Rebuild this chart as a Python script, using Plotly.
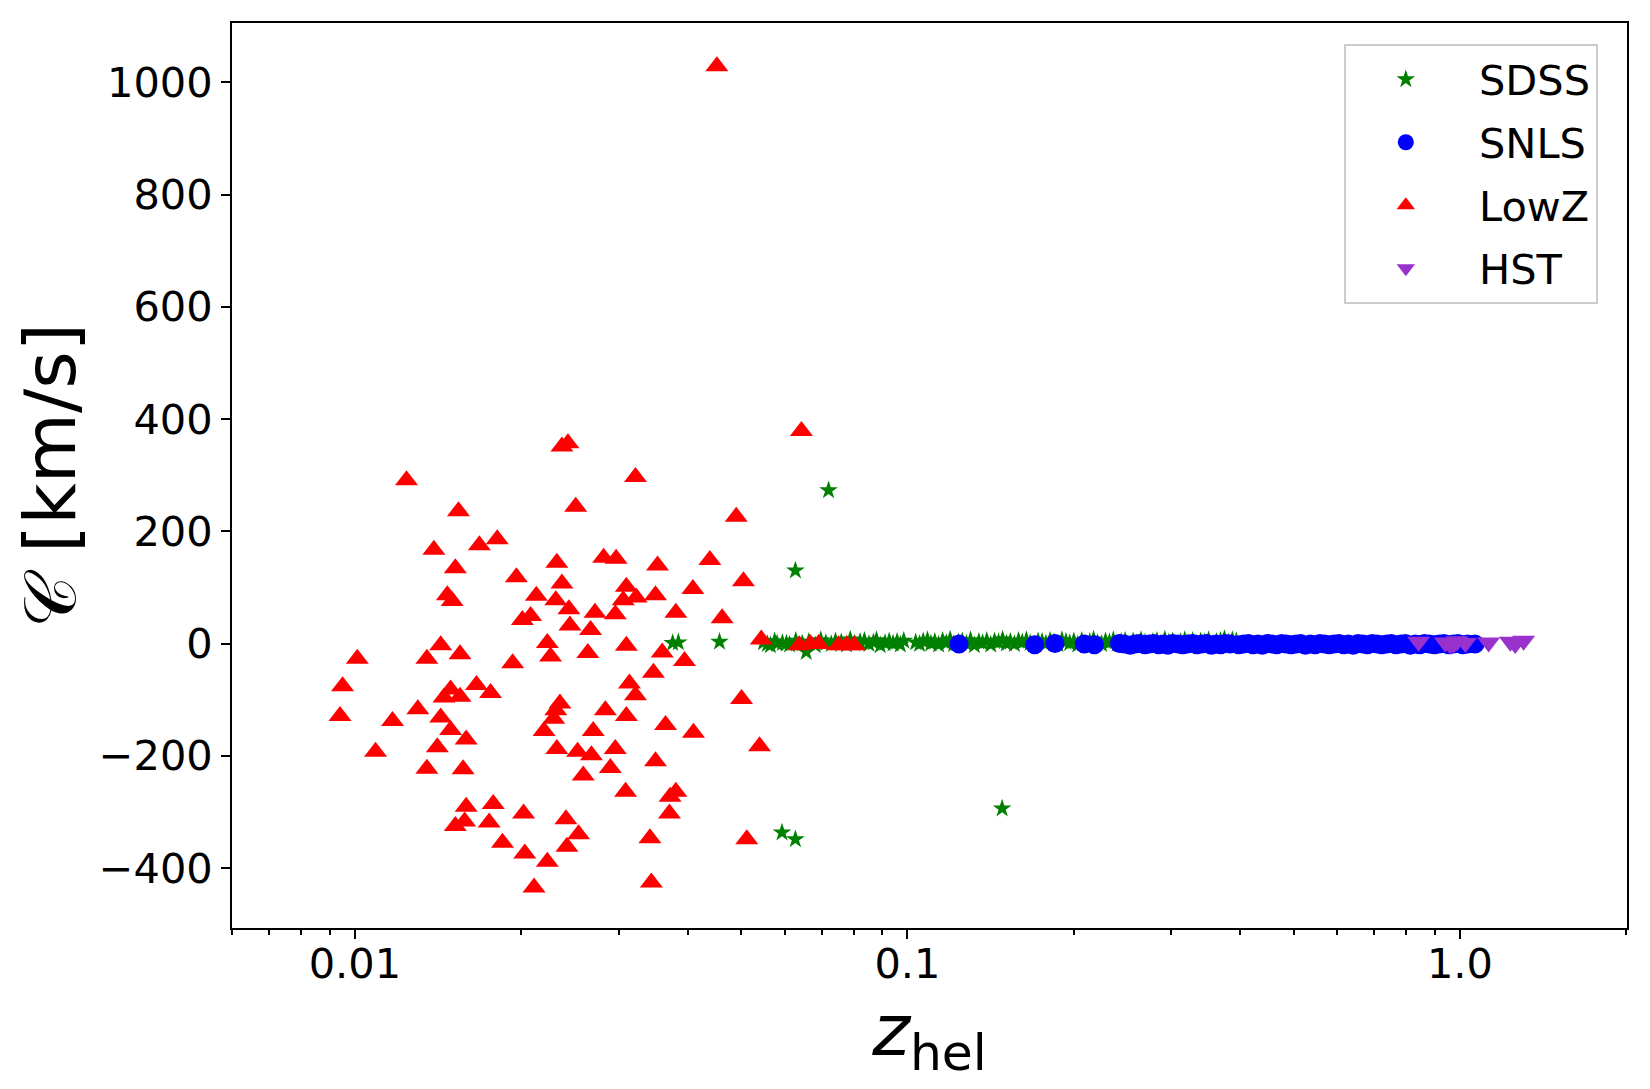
import plotly.graph_objects as go

# SDSS (green stars)
sdss_z = [
    0.0376, 0.0385, 0.0457, 0.0565, 0.0581, 0.0604, 0.0656, 0.0627, 0.0720, 0.1484,
    0.0593, 0.0627, 0.0549, 0.0558, 0.0575, 0.0594, 0.0612, 0.0628, 0.0645, 0.0663,
    0.0681, 0.0697, 0.0712, 0.0728, 0.0741, 0.0759, 0.0776, 0.0788, 0.0803, 0.0821,
    0.0836, 0.0852, 0.0868, 0.0879, 0.0893, 0.0911, 0.0927, 0.0942, 0.0958, 0.0971,
    0.0985, 0.1035, 0.1052, 0.1068, 0.1087, 0.1103, 0.1121, 0.1139, 0.1158, 0.1176,
    0.1195, 0.1213, 0.1236, 0.1257, 0.1279, 0.1301, 0.1322, 0.1347, 0.1368, 0.1392,
    0.1415, 0.1438, 0.1462, 0.1487, 0.1511, 0.1536, 0.1562, 0.1589, 0.1614, 0.1642,
    0.1668, 0.1697, 0.1724, 0.1753, 0.1781, 0.1812, 0.1843, 0.1872, 0.1904, 0.1936,
    0.1967, 0.2001, 0.2034, 0.2068, 0.2103, 0.2138, 0.2172, 0.2209, 0.2246, 0.2283,
    0.2321, 0.2359, 0.2398, 0.2437, 0.2478, 0.2519, 0.2561, 0.2603, 0.2647, 0.2692,
    0.2736, 0.2782, 0.2829, 0.2876, 0.2924, 0.2973, 0.3022, 0.3073, 0.3124, 0.3176,
    0.3229, 0.3283, 0.3338, 0.3394, 0.3451, 0.3508, 0.3567, 0.3626, 0.3687, 0.3748,
    0.3811, 0.3874, 0.3939,
]
sdss_c = [
    1, 2, 3, -3, 0, 0, -15, 130, 273, -294,
    -337, -349, 2, -1, 4, 1, -2, 5, 0, 3,
    -3, 6, 1, -1, 4, 2, -2, 7, 0, 3,
    5, -1, 2, 6, -3, 1, 4, 0, 3, -2,
    5, 2, -1, 4, 6, 0, 3, -2, 5, 1,
    7, -1, 2, 4, 0, 6, -3, 3, 1, 5,
    -2, 4, 2, 7, 0, 3, -1, 5, 2, 6,
    1, -2, 4, 3, 0, 5, 2, -1, 6, 3,
    1, 4, -2, 5, 0, 3, 7, 1, -1, 4,
    2, 6, 0, 3, 5, -2, 4, 1, 6, 2,
    -1, 3, 5, 0, 7, 2, 4, -2, 3, 6,
    1, 5, 0, 4, 2, 6, -1, 3, 5, 8,
    2, 6, 4,
]

# SNLS (blue circles)
snls_z = [
    0.124, 0.170, 0.185, 0.209, 0.218, 0.242, 0.247, 0.253, 0.258, 0.263,
    0.269, 0.274, 0.279, 0.285, 0.291, 0.296, 0.302, 0.309, 0.315, 0.321,
    0.328, 0.334, 0.341, 0.348, 0.355, 0.362, 0.369, 0.376, 0.384, 0.398,
    0.406, 0.414, 0.422, 0.431, 0.439, 0.448, 0.457, 0.466, 0.476, 0.485,
    0.495, 0.505, 0.515, 0.525, 0.536, 0.547, 0.558, 0.569, 0.580, 0.592,
    0.604, 0.616, 0.628, 0.641, 0.654, 0.667, 0.680, 0.694, 0.708, 0.722,
    0.737, 0.751, 0.766, 0.782, 0.797, 0.813, 0.830, 0.846, 0.863, 0.881,
    0.899, 0.917, 0.935, 0.954, 0.973, 0.992, 1.012, 1.033, 1.065,
]
snls_c = [
    -1, -2, 0, -1, -2, 0, -1, -3, -1, 0,
    -2, -1, 0, -2, -1, -3, 0, -1, -2, -1,
    0, -2, -1, 0, -3, -1, -2, 0, -1, -2,
    -1, 0, -2, -1, -3, 0, -1, -2, 0, -1,
    -2, -1, 0, -3, -1, -2, 0, -1, -2, -1,
    0, -2, -1, -3, 0, -1, -2, 0, -1, -2,
    -1, 0, -2, -1, 0, -3, -1, -2, 0, -1,
    -2, -1, 0, -2, -1, 0, -2, -1, -1,
]

# LowZ (red triangles)
lowz_z = [
    0.0452, 0.0643, 0.0124, 0.0154, 0.0139, 0.0168, 0.0181, 0.0152, 0.0147, 0.0150,
    0.0196, 0.0201, 0.0208, 0.0143, 0.0101, 0.0135, 0.0155, 0.0193, 0.0095, 0.0166,
    0.0149, 0.0145, 0.0155, 0.0176, 0.0094, 0.0117, 0.0130, 0.0143, 0.0149, 0.0159,
    0.0141, 0.0109, 0.0135, 0.0157, 0.0159, 0.0178, 0.0158, 0.0152, 0.0175, 0.0185,
    0.0202, 0.0203, 0.0211, 0.0223, 0.0242, 0.0241, 0.0254, 0.0342, 0.0344, 0.0512,
    0.0371, 0.0372, 0.0381, 0.0309, 0.0259, 0.0290, 0.0350, 0.0232, 0.0253, 0.0268,
    0.0296, 0.0540, 0.0220, 0.0270, 0.0365, 0.0410, 0.0229, 0.0231, 0.0235, 0.0284,
    0.0310, 0.0501, 0.0322, 0.0314, 0.0347, 0.0395, 0.0360, 0.0264, 0.0310, 0.0226,
    0.0223, 0.0544, 0.0462, 0.0245, 0.0267, 0.0244, 0.0272, 0.0296, 0.0381, 0.0213,
    0.0231, 0.0306, 0.0323, 0.0350, 0.0409, 0.0310, 0.0237, 0.0505, 0.0232, 0.0282,
    0.0297, 0.0353, 0.0439, 0.0251, 0.0490, 0.0322, 0.0237, 0.0243, 0.0637, 0.0667,
    0.0691, 0.0751, 0.0777, 0.0801,
]
lowz_c = [
    1029, 379, 291, 236, 167, 175, 186, 134, 86, 76,
    118, 42, 49, -3, -27, -27, -19, -35, -76, -74,
    -82, -96, -95, -88, -129, -138, -117, -132, -154, -171,
    -185, -193, -223, -224, -291, -286, -317, -325, -319, -355,
    -303, -374, -435, -389, -362, -313, -340, -347, -426, -349,
    -303, -273, -264, -264, -235, -222, -210, -188, -193, -199,
    -188, -183, -156, -156, -145, -159, -134, -119, -107, -119,
    -129, -99, -92, -71, -52, -31, -16, -17, -4, -23,
    1, 7, 45, 32, 24, 61, 55, 52, 55, 85,
    77, 77, 82, 86, 97, 101, 107, 111, 144, 153,
    151, 139, 149, 244, 226, 297, 351, 357, -3, -1,
    -1, -3, -3, -3,
]

# HST (purple down-triangles)
hst_z = [0.842, 0.941, 0.961, 0.975, 0.988, 1.023, 1.127, 1.234, 1.259, 1.304]
hst_c = [3, 2, -2, 0, 4, 1, 2, 3, -1, 5]

legend_names = ["SDSS", "SNLS", "LowZ", "HST"]

x_tickvals = [0.01, 0.1, 1.0]
x_ticktext = ["0.01", "0.1", "1.0"]
x_minor = [0.006, 0.007, 0.008, 0.009, 0.02, 0.03, 0.04, 0.05, 0.06, 0.07, 0.08, 0.09,
           0.2, 0.3, 0.4, 0.5, 0.6, 0.7, 0.8, 0.9, 2.0]

# small gap between legend symbol and label
pad = "\u00a0"

fig = go.Figure()
fig.add_trace(go.Scatter(x=sdss_z, y=sdss_c, mode="markers", name=pad + legend_names[0], legendgroup="a",
                         marker=dict(symbol="star", size=14, color="green", line=dict(width=0))))
fig.add_trace(go.Scatter(x=snls_z, y=snls_c, mode="markers", name=pad + legend_names[1], legendgroup="b",
                         marker=dict(symbol="circle", size=19, color="blue", line=dict(width=0))))
fig.add_trace(go.Scatter(x=lowz_z, y=lowz_c, mode="markers", name=pad + legend_names[2], legendgroup="c",
                         marker=dict(symbol="triangle-up", size=20, color="red", line=dict(width=0))))
fig.add_trace(go.Scatter(x=hst_z, y=hst_c, mode="markers", name=pad + legend_names[3], legendgroup="d",
                         marker=dict(symbol="triangle-down", size=20, color="#9932cc", line=dict(width=0))))

axis_common = dict(
    showline=True, linewidth=2, linecolor="black", mirror=True,
    showgrid=False, zeroline=False, automargin=False,
    ticks="outside", ticklen=9, tickwidth=2, tickcolor="black",
    tickfont=dict(size=41.5, color="black"),
)

# the page body adds an 8px offset, so the figure is drawn 8px smaller
fig.update_layout(
    width=1642, height=1081,
    margin=dict(l=224, r=23, t=15, b=161),
    paper_bgcolor="white", plot_bgcolor="white",
    font=dict(family="DejaVu Sans", size=41.5, color="black"),
    showlegend=True,
    legend=dict(
        x=0.797, y=0.977, xanchor="left", yanchor="top",
        bgcolor="rgba(255,255,255,0.8)", bordercolor="#cccccc", borderwidth=2,
        font=dict(size=41.5), tracegroupgap=6, itemwidth=110,
    ),
)
fig.update_xaxes(
    type="log", range=[-2.2224, 0.3024],
    tickvals=x_tickvals, ticktext=x_ticktext, ticklabelstandoff=-11,
    minor=dict(tickvals=x_minor, ticks="outside", ticklen=5, tickwidth=1.5, tickcolor="black"),
    title=dict(text="<i>z</i><sub>hel</sub>", font=dict(size=72), standoff=8),
    **axis_common,
)
fig.update_yaxes(
    range=[-507, 1106], tickmode="linear", tick0=0, dtick=200, ticklabelstandoff=0,
    title=dict(text="𝒞 [km/s]", font=dict(size=72), standoff=22),
    **axis_common,
)

fig.write_html("out.html")
